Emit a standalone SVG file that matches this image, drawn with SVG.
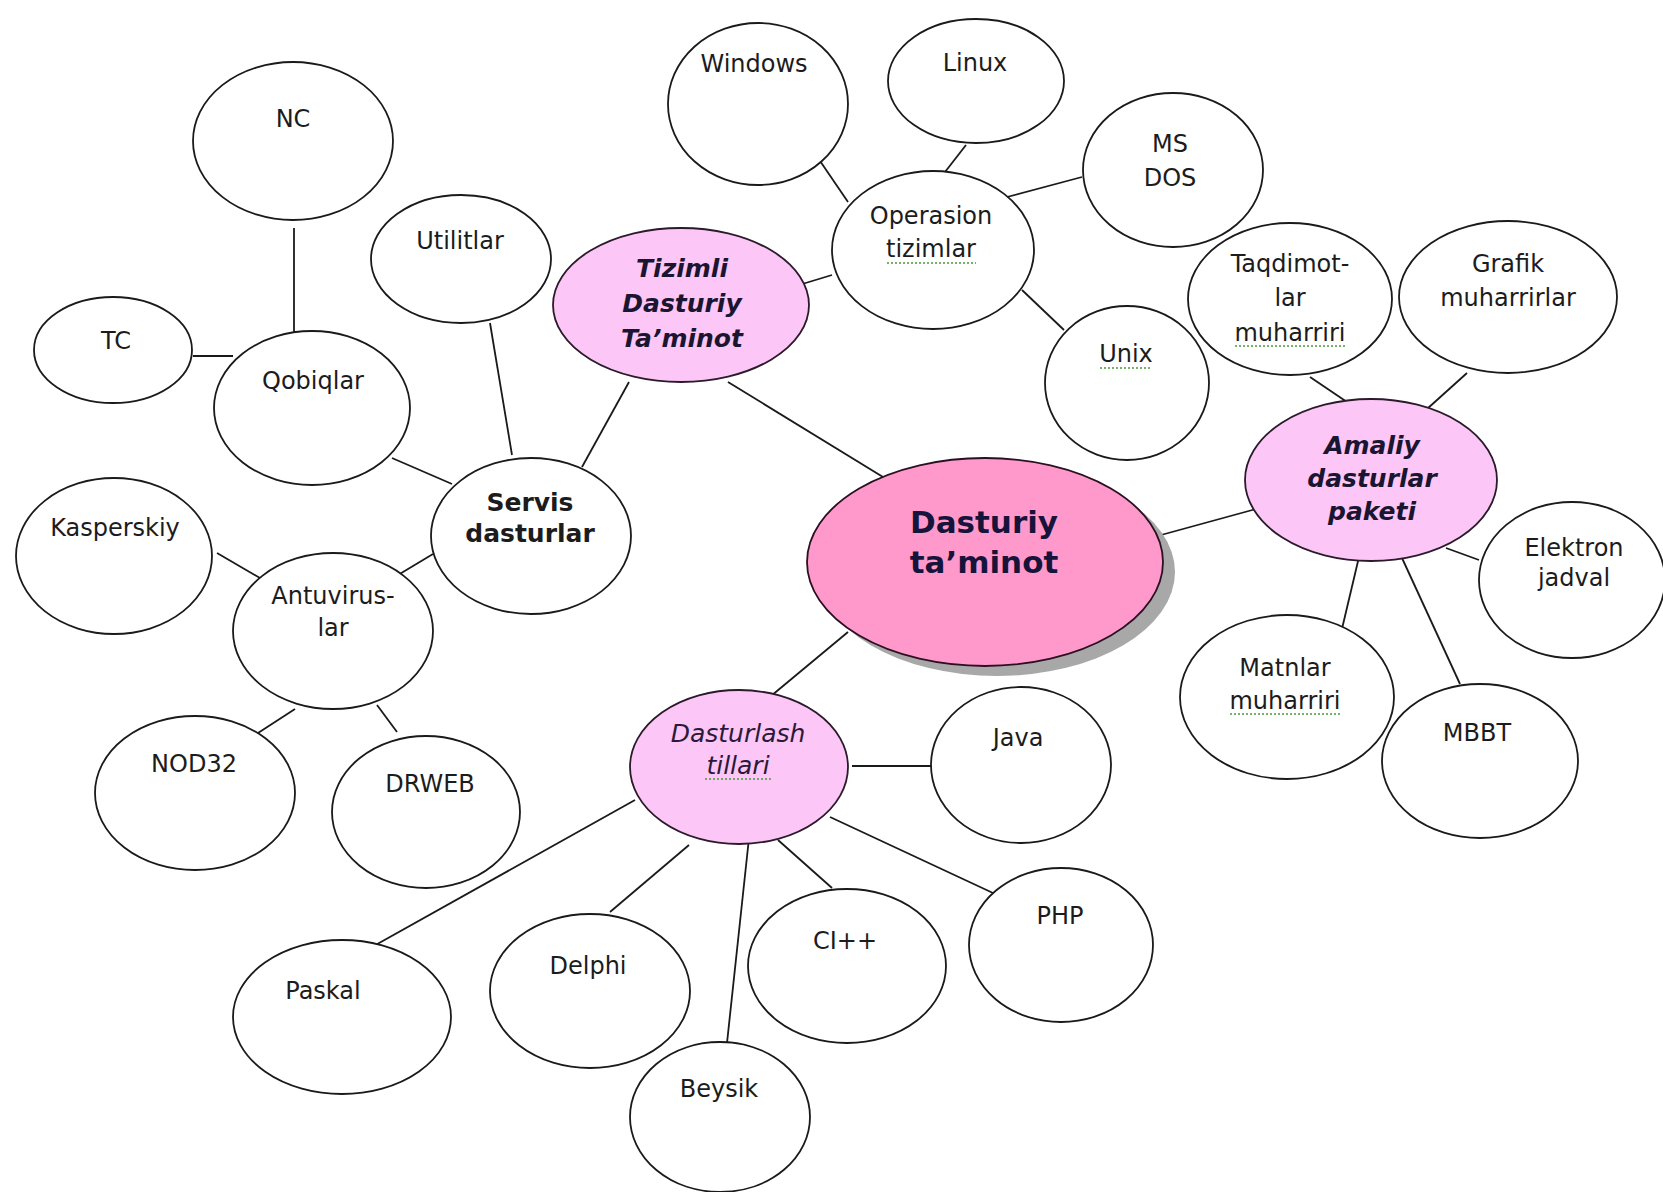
<svg xmlns="http://www.w3.org/2000/svg" width="1663" height="1192" viewBox="0 0 1663 1192">
<defs>
<style>
.n{fill:#fff;stroke:#1a1a1a;stroke-width:1.8}
.p{fill:#fcc6f6;stroke:#2a1a2a;stroke-width:1.8}
.c{fill:#ff99cc;stroke:#2a1020;stroke-width:1.8}
.sh{fill:#a8a8a8}
.t{font-family:"DejaVu Sans","Liberation Sans",sans-serif;font-size:24px;fill:#1c1c1c;text-anchor:middle}
.b{font-weight:bold;font-size:25px}
.bi{font-weight:bold;font-style:italic;font-size:25px;fill:#1a1530}
.i{font-style:italic;font-size:25px;fill:#2a1a3a}
.big{font-weight:bold;font-size:31px;fill:#16143a}
.sq{fill:none;stroke:#4a9a3a;stroke-width:1.6;stroke-dasharray:2 2}
.l{stroke:#1a1a1a;stroke-width:1.8;fill:none}
</style>
</defs>
<rect width="1663" height="1192" fill="#fff"/>
<g id="connectors">
<line class="l" x1="294" y1="228" x2="294" y2="332"/>
<line class="l" x1="193" y1="356" x2="233" y2="356"/>
<line class="l" x1="392" y1="458" x2="452" y2="484"/>
<line class="l" x1="490" y1="323" x2="512" y2="455"/>
<line class="l" x1="582" y1="467" x2="629" y2="382"/>
<line class="l" x1="217" y1="553" x2="260" y2="578"/>
<line class="l" x1="398" y1="575" x2="433" y2="554"/>
<line class="l" x1="258" y1="733" x2="295" y2="709"/>
<line class="l" x1="377" y1="705" x2="397" y2="732"/>
<line class="l" x1="728" y1="382" x2="883" y2="477"/>
<line class="l" x1="799" y1="285" x2="832" y2="275"/>
<line class="l" x1="818" y1="158" x2="848" y2="202"/>
<line class="l" x1="966" y1="145" x2="945" y2="172"/>
<line class="l" x1="1007" y1="197" x2="1082" y2="177"/>
<line class="l" x1="1022" y1="290" x2="1064" y2="330"/>
<line class="l" x1="1161" y1="535" x2="1256" y2="509"/>
<line class="l" x1="1310" y1="377" x2="1347" y2="402"/>
<line class="l" x1="1467" y1="373" x2="1417" y2="418"/>
<line class="l" x1="1446" y1="548" x2="1479" y2="560"/>
<line class="l" x1="1359" y1="557" x2="1341" y2="633"/>
<line class="l" x1="1402" y1="558" x2="1460" y2="684"/>
<line class="l" x1="771" y1="696" x2="848" y2="632"/>
<line class="l" x1="852" y1="766" x2="932" y2="766"/>
<line class="l" x1="830" y1="817" x2="993" y2="893"/>
<line class="l" x1="778" y1="840" x2="832" y2="888"/>
<line class="l" x1="749" y1="838" x2="727" y2="1043"/>
<line class="l" x1="689" y1="845" x2="610" y2="912"/>
<line class="l" x1="635" y1="800" x2="372" y2="947"/>
</g>
<g id="node-center">
<ellipse class="sh" cx="997" cy="572" rx="178" ry="104"/>
<ellipse class="c" cx="985" cy="562" rx="178" ry="104"/>
<text class="t big" x="984" y="533">Dasturiy</text>
<text class="t big" x="984" y="573">ta’minot</text>
</g>
<g id="node-tizimli">
<ellipse class="p" cx="681" cy="305" rx="128" ry="77"/>
<text class="t bi" x="682" y="277">Tizimli</text>
<text class="t bi" x="682" y="312">Dasturiy</text>
<text class="t bi" x="682" y="347">Ta’minot</text>
</g>
<g id="node-amaliy">
<ellipse class="p" cx="1371" cy="480" rx="126" ry="81"/>
<text class="t bi" x="1372" y="454">Amaliy</text>
<text class="t bi" x="1372" y="487">dasturlar</text>
<text class="t bi" x="1372" y="520">paketi</text>
</g>
<g id="node-dasturlash">
<ellipse class="p" cx="739" cy="767" rx="109" ry="77"/>
<text class="t i" x="738" y="742">Dasturlash</text>
<text class="t i" x="738" y="774">tillari</text>
<path class="sq" d="M705 779 H772"/>
</g>
<g id="node-servis">
<ellipse class="n" cx="531" cy="536" rx="100" ry="78"/>
<text class="t b" x="530" y="511">Servis</text>
<text class="t b" x="530" y="542">dasturlar</text>
</g>
<g id="node-nc">
<ellipse class="n" cx="293" cy="141" rx="100" ry="79"/>
<text class="t" x="293" y="127">NC</text>
</g>
<g id="node-tc">
<ellipse class="n" cx="113" cy="350" rx="79" ry="53"/>
<text class="t" x="116" y="349">TC</text>
</g>
<g id="node-qobiqlar">
<ellipse class="n" cx="312" cy="408" rx="98" ry="77"/>
<text class="t" x="313" y="389">Qobiqlar</text>
</g>
<g id="node-utilitlar">
<ellipse class="n" cx="461" cy="259" rx="90" ry="64"/>
<text class="t" x="460" y="249">Utilitlar</text>
</g>
<g id="node-kasperskiy">
<ellipse class="n" cx="114" cy="556" rx="98" ry="78"/>
<text class="t" x="115" y="536">Kasperskiy</text>
</g>
<g id="node-antuviruslar">
<ellipse class="n" cx="333" cy="631" rx="100" ry="78"/>
<text class="t" x="333" y="604">Antuvirus-</text>
<text class="t" x="333" y="636">lar</text>
</g>
<g id="node-nod32">
<ellipse class="n" cx="195" cy="793" rx="100" ry="77"/>
<text class="t" x="194" y="772">NOD32</text>
</g>
<g id="node-drweb">
<ellipse class="n" cx="426" cy="812" rx="94" ry="76"/>
<text class="t" x="430" y="792">DRWEB</text>
</g>
<g id="node-windows">
<ellipse class="n" cx="758" cy="104" rx="90" ry="81"/>
<text class="t" x="754" y="72">Windows</text>
</g>
<g id="node-linux">
<ellipse class="n" cx="976" cy="81" rx="88" ry="62"/>
<text class="t" x="975" y="71">Linux</text>
</g>
<g id="node-msdos">
<ellipse class="n" cx="1173" cy="170" rx="90" ry="77"/>
<text class="t" x="1170" y="152">MS</text>
<text class="t" x="1170" y="186">DOS</text>
</g>
<g id="node-operasion">
<ellipse class="n" cx="933" cy="250" rx="101" ry="79"/>
<text class="t" x="931" y="224">Operasion</text>
<text class="t" x="931" y="257">tizimlar</text>
<path class="sq" d="M887 263 H976"/>
</g>
<g id="node-unix">
<ellipse class="n" cx="1127" cy="383" rx="82" ry="77"/>
<text class="t" x="1126" y="362">Unix</text>
<path class="sq" d="M1100 368 H1152"/>
</g>
<g id="node-taqdimotlar">
<ellipse class="n" cx="1290" cy="299" rx="102" ry="76"/>
<text class="t" x="1290" y="272">Taqdimot-</text>
<text class="t" x="1290" y="306">lar</text>
<text class="t" x="1290" y="341">muharriri</text>
<path class="sq" d="M1235 346 H1345"/>
</g>
<g id="node-grafik">
<ellipse class="n" cx="1508" cy="297" rx="109" ry="76"/>
<text class="t" x="1508" y="272">Grafik</text>
<text class="t" x="1508" y="306">muharrirlar</text>
</g>
<g id="node-elektron">
<ellipse class="n" cx="1572" cy="580" rx="93" ry="78"/>
<text class="t" x="1574" y="556">Elektron</text>
<text class="t" x="1574" y="586">jadval</text>
</g>
<g id="node-matnlar">
<ellipse class="n" cx="1287" cy="697" rx="107" ry="82"/>
<text class="t" x="1285" y="676">Matnlar</text>
<text class="t" x="1285" y="709">muharriri</text>
<path class="sq" d="M1230 714 H1340"/>
</g>
<g id="node-mbbt">
<ellipse class="n" cx="1480" cy="761" rx="98" ry="77"/>
<text class="t" x="1477" y="741">MBBT</text>
</g>
<g id="node-java">
<ellipse class="n" cx="1021" cy="765" rx="90" ry="78"/>
<text class="t" x="1018" y="746">Java</text>
</g>
<g id="node-php">
<ellipse class="n" cx="1061" cy="945" rx="92" ry="77"/>
<text class="t" x="1060" y="924">PHP</text>
</g>
<g id="node-ci">
<ellipse class="n" cx="847" cy="966" rx="99" ry="77"/>
<text class="t" x="845" y="949">CI++</text>
</g>
<g id="node-beysik">
<ellipse class="n" cx="720" cy="1117" rx="90" ry="75"/>
<text class="t" x="719" y="1097">Beysik</text>
</g>
<g id="node-delphi">
<ellipse class="n" cx="590" cy="991" rx="100" ry="77"/>
<text class="t" x="588" y="974">Delphi</text>
</g>
<g id="node-paskal">
<ellipse class="n" cx="342" cy="1017" rx="109" ry="77"/>
<text class="t" x="323" y="999">Paskal</text>
</g>
</svg>
